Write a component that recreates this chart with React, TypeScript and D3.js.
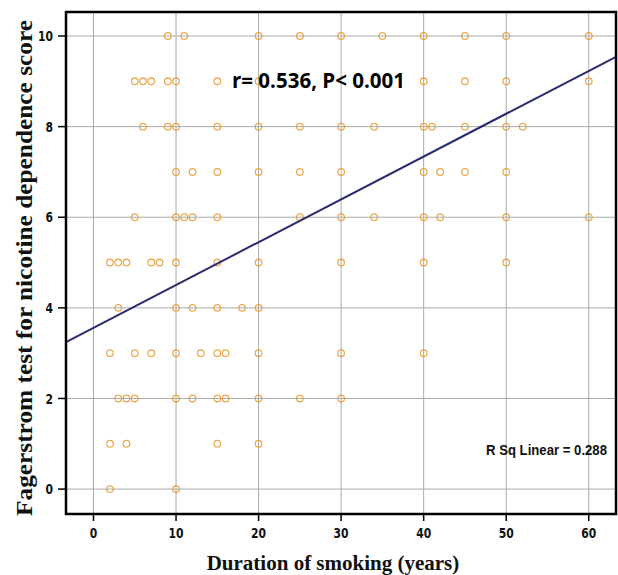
import React from "react";
import * as d3 from "d3";

// duration of smoking (years) observed at each Fagerstrom score
const scoreLevels = [10, 9, 8, 7, 6, 5, 4, 3, 2, 1, 0];
const durationsAt10 = [9, 11, 20, 25, 30, 35, 40, 45, 50, 60];
const durationsAt9 = [5, 6, 7, 9, 10, 15, 20, 40, 45, 50, 60];
const durationsAt8 = [6, 9, 10, 15, 20, 25, 30, 34, 40, 41, 45, 50, 52];
const durationsAt7 = [10, 12, 15, 20, 25, 30, 40, 42, 45, 50];
const durationsAt6 = [5, 10, 11, 12, 15, 25, 30, 34, 40, 42, 50, 60];
const durationsAt5 = [2, 3, 4, 7, 8, 10, 15, 20, 30, 40, 50];
const durationsAt4 = [3, 10, 12, 15, 18, 20];
const durationsAt3 = [2, 5, 7, 10, 13, 15, 16, 20, 30, 40];
const durationsAt2 = [3, 4, 5, 10, 12, 15, 16, 20, 25, 30];
const durationsAt1 = [2, 4, 15, 20];
const durationsAt0 = [2, 10];
const durationRows = [durationsAt10, durationsAt9, durationsAt8, durationsAt7, durationsAt6, durationsAt5, durationsAt4, durationsAt3, durationsAt2, durationsAt1, durationsAt0];

const xTicks = [0, 10, 20, 30, 40, 50, 60];
const yTicks = [0, 2, 4, 6, 8, 10];
const fitIntercept = 3.56;
const fitSlope = 0.0945;

const W = 618, H = 575;
const frame = { left: 66, top: 12, right: 616, bottom: 514 };

export default function App() {
  const points = durationRows.flatMap((row, i) => row.map(d => ({ x: d, y: scoreLevels[i] })));

  const x = d3.scaleLinear().domain([-3.33, 63.3]).range([frame.left, frame.right]);
  const y = d3.scaleLinear().domain([-0.55, 10.53]).range([frame.bottom, frame.top]);

  const fit = d3.line<number>().x(d => x(d)).y(d => y(fitIntercept + fitSlope * d));
  const narrow = "'DejaVu Sans', sans-serif";
  const serif = "'Liberation Serif', 'Times New Roman', serif";

  return (
    <svg width={W} height={H} style={{ position: "absolute", left: 0, top: 0, background: "#fff" }}>
      {/* grid */}
      <g stroke="#aaaaaa" strokeWidth={1}>
        {xTicks.map(t => <line key={"gx" + t} x1={x(t)} x2={x(t)} y1={frame.top} y2={frame.bottom} />)}
        {yTicks.map(t => <line key={"gy" + t} x1={frame.left} x2={frame.right} y1={y(t)} y2={y(t)} />)}
      </g>

      {/* points */}
      <g fill="none" stroke="#e3972a" strokeOpacity={0.8} strokeWidth={1.3}>
        {points.map((p, i) => <circle key={i} cx={x(p.x)} cy={y(p.y)} r={3.3} />)}
      </g>

      {/* fit line */}
      <path d={fit(x.domain()) || ""} fill="none" stroke="#2b2c6e" strokeWidth={2} />

      {/* frame + ticks */}
      <rect x={frame.left} y={frame.top} width={frame.right - frame.left} height={frame.bottom - frame.top}
        fill="none" stroke="#000" strokeWidth={2.5} />
      <g stroke="#000" strokeWidth={1.5}>
        {xTicks.map(t => <line key={"tx" + t} x1={x(t)} x2={x(t)} y1={frame.bottom} y2={frame.bottom + 7} />)}
        {yTicks.map(t => <line key={"ty" + t} x1={frame.left - 8} x2={frame.left} y1={y(t)} y2={y(t)} />)}
      </g>
      <g fontFamily={narrow} fontStretch="condensed" fontWeight="bold" fontSize={14} fill="#111">
        {xTicks.map(t => (
          <text key={"lx" + t} x={x(t)} y={frame.bottom + 24} textAnchor="middle"
            textLength={String(t).length * 7.5} lengthAdjust="spacingAndGlyphs">{t}</text>
        ))}
        {yTicks.map(t => (
          <text key={"ly" + t} x={frame.left - 13} y={y(t)} dy="0.36em" textAnchor="end"
            textLength={String(t).length * 7.5} lengthAdjust="spacingAndGlyphs">{t}</text>
        ))}
      </g>

      {/* annotations */}
      <text x={232} y={88} fontFamily="'Open Sans', sans-serif" fontWeight={700} fontSize={22}
        textLength={173} lengthAdjust="spacingAndGlyphs" fill="#000">r= 0.536, P&lt; 0.001</text>
      <text transform="translate(607, 455) scale(1, 1.2)" textAnchor="end" fontFamily="'Liberation Sans', sans-serif"
        fontWeight="bold" fontSize={12.5} textLength={121} lengthAdjust="spacingAndGlyphs"
        fill="#111">R Sq Linear = 0.288</text>

      {/* axis titles */}
      <text x={333} y={570} textAnchor="middle" fontFamily={serif}
        fontWeight="bold" fontSize={21} fill="#111">Duration of smoking (years)</text>
      <text transform="translate(32, 268) rotate(-90)" textAnchor="middle" fontFamily={serif}
        fontWeight="bold" fontSize={24} textLength={496} lengthAdjust="spacingAndGlyphs"
        fill="#111">Fagerstrom test for nicotine dependence score</text>
    </svg>
  );
}
